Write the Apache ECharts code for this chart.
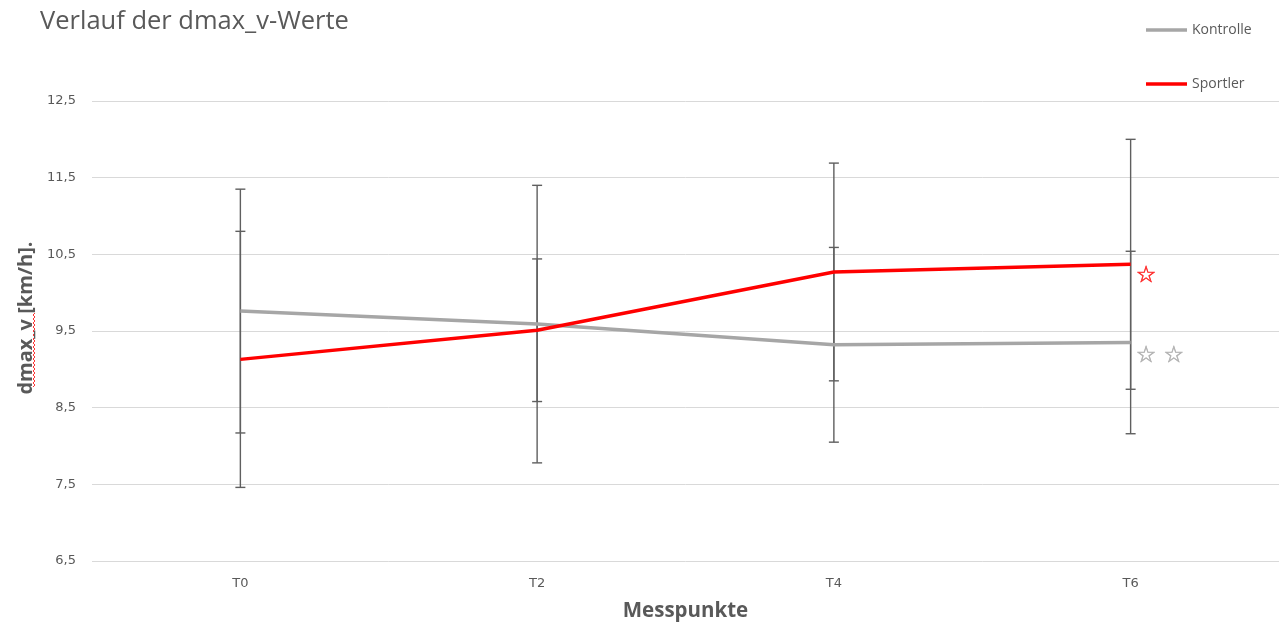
<!DOCTYPE html>
<html>
<head>
<meta charset="utf-8">
<title>Verlauf der dmax_v-Werte</title>
<script src="https://cdn.jsdelivr.net/npm/echarts@6/dist/echarts.min.js"></script>
<style>
  html, body { margin: 0; padding: 0; background: #ffffff; }
  #chart { width: 1279px; height: 623px; }
</style>
</head>
<body>
<div id="chart"></div>
<script>
// Messpunkte (Kategorien)
const categories = ['T0', 'T2', 'T4', 'T6'];

// Mittelwerte dmax_v [km/h]
const kontrolleMean = [9.76, 9.59, 9.32, 9.35];
const sportlerMean  = [9.13, 9.51, 10.27, 10.37];

// Standardabweichungen (Fehlerbalken)
const kontrolleSD = [1.59, 1.81, 1.27, 1.19];
const sportlerSD  = [1.67, 0.93, 1.42, 1.63];

// Signifikanzmarken am letzten Messpunkt
const kontrolleMark = '☆ ☆';
const sportlerMark  = '☆';

// Y-Achse
const yMin = 6.5, yMax = 12.5, yStep = 1;

const textColor = '#595959';
const fontFamily = '"Open Sans", "DejaVu Sans", sans-serif';
const tickFont = '"DejaVu Sans", sans-serif';

function errorData(means, sds) {
  return means.map((m, i) => [i, m - sds[i], m + sds[i]]);
}

function renderErrorBar(params, api) {
  const x = api.value(0);
  const lo = api.coord([x, api.value(1)]);
  const hi = api.coord([x, api.value(2)]);
  const half = 5;
  const style = { stroke: '#5f5f5f', lineWidth: 1.4, fill: null };
  return {
    type: 'group',
    children: [
      { type: 'line', shape: { x1: lo[0], y1: lo[1], x2: hi[0], y2: hi[1] }, style },
      { type: 'line', shape: { x1: lo[0] - half, y1: lo[1], x2: lo[0] + half, y2: lo[1] }, style },
      { type: 'line', shape: { x1: hi[0] - half, y1: hi[1], x2: hi[0] + half, y2: hi[1] }, style }
    ]
  };
}

// Rote Wellenlinie (Rechtschreibmarkierung) unter "dmax_v"
function squiggle(x, y0, y1, amp, step) {
  const pts = [];
  let k = 0;
  for (let y = y1; y >= y0; y -= step) {
    pts.push([x + (k % 2 === 0 ? 0 : amp), y]);
    k++;
  }
  return pts;
}

const starLabel = (text, color, dy) => ({
  show: true,
  formatter: text,
  color,
  fontSize: 23,
  distance: 5,
  offset: [0, dy],
  textBorderColor: color,
  textBorderWidth: 0.6,
  fontFamily: '"DejaVu Sans", sans-serif'
});

const chart = echarts.init(document.getElementById('chart'), null, { renderer: 'canvas' });

chart.setOption({
  animation: false,
  backgroundColor: '#ffffff',
  title: {
    text: 'Verlauf der dmax_v-Werte',
    left: 35,
    top: 4,
    textStyle: { color: textColor, fontSize: 25.5, fontWeight: 'normal', fontFamily }
  },
  legend: {
    orient: 'vertical',
    left: 1141,
    top: 18,
    icon: 'rect',
    itemWidth: 41,
    itemHeight: 3.5,
    itemGap: 40,
    data: [
      { name: 'Kontrolle', itemStyle: { color: '#A6A6A6' } },
      { name: 'Sportler', itemStyle: { color: '#FF0000' } }
    ],
    textStyle: { color: textColor, fontSize: 14, fontFamily }
  },
  grid: { left: 92, right: 0, top: 101, bottom: 62, outerBoundsMode: 'none', containLabel: false },
  xAxis: {
    type: 'category',
    data: categories,
    boundaryGap: true,
    axisLine: { show: false },
    axisTick: { show: false },
    axisLabel: { color: textColor, fontSize: 13, margin: 16, fontFamily: tickFont },
    name: 'Messpunkte',
    nameLocation: 'middle',
    nameGap: 40,
    nameTextStyle: { color: textColor, fontSize: 20.5, fontWeight: 'bold', fontFamily }
  },
  yAxis: {
    type: 'value',
    min: yMin,
    max: yMax,
    interval: yStep,
    axisLine: { show: false },
    axisTick: { show: false },
    splitLine: { lineStyle: { color: '#D9D9D9', width: 1 } },
    axisLabel: {
      color: textColor,
      fontSize: 13,
      margin: 16,
      fontFamily: tickFont,
      formatter: v => v.toFixed(1).replace('.', ',')
    },
    name: 'dmax_v [km/h].',
    nameLocation: 'middle',
    nameRotate: 90,
    nameGap: 56,
    nameTextStyle: {
      color: textColor,
      fontSize: 20,
      fontWeight: 'bold',
      fontFamily,
      padding: [0, 0, 0, 26]
    }
  },
  series: [
    {
      name: 'Kontrolle',
      type: 'line',
      data: kontrolleMean,
      symbol: 'none',
      z: 3,
      lineStyle: { color: '#A6A6A6', width: 3.5 },
      itemStyle: { color: '#A6A6A6' },
      endLabel: starLabel(kontrolleMark, '#B4B4B4', 14)
    },
    {
      name: 'Sportler',
      type: 'line',
      data: sportlerMean,
      symbol: 'none',
      z: 4,
      lineStyle: { color: '#FF0000', width: 3.5 },
      itemStyle: { color: '#FF0000' },
      endLabel: starLabel(sportlerMark, '#FF3030', 12)
    },
    {
      name: 'Fehler Kontrolle',
      type: 'custom',
      data: errorData(kontrolleMean, kontrolleSD),
      renderItem: renderErrorBar,
      encode: { x: 0, y: [1, 2] },
      z: 2,
      silent: true
    },
    {
      name: 'Fehler Sportler',
      type: 'custom',
      data: errorData(sportlerMean, sportlerSD),
      renderItem: renderErrorBar,
      encode: { x: 0, y: [1, 2] },
      z: 2,
      silent: true
    }
  ],
  graphic: [
    {
      type: 'polyline',
      shape: { points: squiggle(33, 313, 387, 2, 2) },
      style: { stroke: '#FF0000', lineWidth: 0.8, fill: null },
      silent: true
    }
  ]
});
</script>
</body>
</html>
